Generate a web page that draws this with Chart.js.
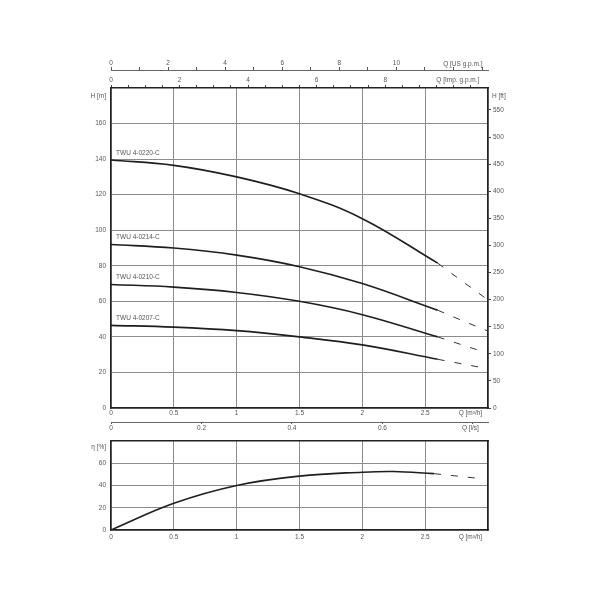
<!DOCTYPE html>
<html>
<head>
<meta charset="utf-8">
<script src="https://cdn.jsdelivr.net/npm/chart.js@4.4.0/dist/chart.umd.min.js"></script>
<style>
body { margin: 0; background: #fff; }
#wrap { position: relative; width: 600px; height: 600px; }
canvas { position: absolute; left: 0; }
#top { top: 50px; }
#bottom { top: 432px; }
</style>
</head>
<body>
<div id="wrap">
<canvas id="top" width="600" height="390"></canvas>
<canvas id="bottom" width="600" height="116"></canvas>
</div>
<script>
// pump names and head curves H [m] over Q [m3/h]
const pumpNames = ['TWU 4-0220-C', 'TWU 4-0214-C', 'TWU 4-0210-C', 'TWU 4-0207-C'];
const qSolid = [0, 0.5, 1, 1.5, 2, 2.6];
const h0220 = [139.5, 136.5, 130, 120.5, 106.5, 81.5];
const h0214 = [92, 90, 86, 79.5, 70, 55];
const h0210 = [69.5, 68, 65, 60, 52.5, 40];
const h0207 = [46.5, 45.5, 43.5, 40, 35.5, 27.4];

// dashed parts past the working range
const qDash0220 = [2.6, 2.8, 3.0];
const hDash0220 = [81.5, 71, 60.8];
const qDash0214 = [2.6, 2.8, 3.0];
const hDash0214 = [55, 49, 43.3];
const qDash0210 = [2.6, 2.92];
const hDash0210 = [40, 32.6];
const qDash0207 = [2.6, 2.93];
const hDash0207 = [27.4, 23];

// efficiency
const qEta = [0, 0.5, 1, 1.5, 2, 2.25, 2.57];
const eta = [0, 24, 40, 48.4, 51.9, 52.5, 50.6];
const qEtaDash = [2.57, 2.93];
const etaDash = [50.6, 46.3];

// tick values
const qTicks = [0, 0.5, 1, 1.5, 2, 2.5, 3];
const lsTicks = [0, 0.2, 0.4, 0.6, 0.8];
const usTicks = [0, 1, 2, 3, 4, 5, 6, 7, 8, 9, 10, 11, 12, 13];
const impTicks = [0, 0.5, 1, 1.5, 2, 2.5, 3, 3.5, 4, 4.5, 5, 5.5, 6, 6.5, 7, 7.5, 8, 8.5, 9, 9.5, 10, 10.5];
const hTicks = [0, 20, 40, 60, 80, 100, 120, 140, 160];
const ftTicks = [0, 50, 100, 150, 200, 250, 300, 350, 400, 450, 500, 550];
const etaTicks = [0, 20, 40, 60];

const FONT = { family: '"Liberation Sans", Arial, sans-serif', size: 6.5 };
const txtColor = '#555';
const gridColor = '#8c8c8c';
const axisColor = '#222';

function pts(xs, ys) { return xs.map((x, i) => ({ x: x, y: ys[i] })); }
function setTicks(arr) { return s => { s.ticks = arr.map(v => ({ value: v })); }; }
function fix(dim, px) { return s => { s[dim] = px; }; }

function solid(xs, ys) {
    return { data: pts(xs, ys), borderColor: '#1e1e1e', borderWidth: 1.6, pointRadius: 0, tension: 0.4 };
}
function dashed(xs, ys) {
    return { data: pts(xs, ys), borderColor: '#333', borderWidth: 1, borderDash: [7, 10], pointRadius: 0, tension: 0 };
}

function drawTexts(chart, items) {
    const ctx = chart.ctx;
    ctx.save();
    ctx.font = FONT.size + 'px ' + FONT.family;
    ctx.fillStyle = txtColor;
    ctx.textBaseline = 'middle';
    items.forEach(t => {
        ctx.textAlign = t.align || 'center';
        ctx.fillText(t.text, t.x, t.y);
    });
    ctx.restore();
}

const heads = [h0220, h0214, h0210, h0207];

const topTexts = {
    id: 'topTexts',
    afterDraw(chart) {
        const s = chart.scales;
        const items = [
            { text: 'H [m]', align: 'right', x: s.y.right - 5, y: s.y.getPixelForValue(175.5) },
            { text: 'H [ft]', align: 'left', x: s.yFt.left + 4, y: s.y.getPixelForValue(175.5) },
            { text: 'Q [US g.p.m.]', x: s.x.getPixelForValue(2.8), y: s.xUS.bottom - 6 },
            { text: 'Q [Imp. g.p.m.]', x: s.x.getPixelForValue(2.76), y: s.xImp.bottom - 8 },
            { text: 'Q [m\u00b3/h]', x: s.x.getPixelForValue(2.86), y: s.x.top + 5 },
            { text: 'Q [l/s]', x: s.x.getPixelForValue(2.86), y: s.ls.top + 6 }
        ];
        pumpNames.forEach((n, i) => {
            items.push({ text: n, align: 'left', x: s.x.getPixelForValue(0.04), y: s.y.getPixelForValue(heads[i][0]) - 7 });
        });
        drawTexts(chart, items);
    }
};

new Chart(document.getElementById('top'), {
    type: 'line',
    data: {
        datasets: [
            solid(qSolid, h0220), dashed(qDash0220, hDash0220),
            solid(qSolid, h0214), dashed(qDash0214, hDash0214),
            solid(qSolid, h0210), dashed(qDash0210, hDash0210),
            solid(qSolid, h0207), dashed(qDash0207, hDash0207)
        ]
    },
    options: {
        responsive: false,
        animation: false,
        layout: { padding: { top: 6, bottom: 4, left: 0, right: 0 } },
        plugins: { legend: { display: false }, tooltip: { enabled: false } },
        scales: {
            x: {
                type: 'linear', position: 'bottom', weight: 0, min: 0, max: 3,
                afterBuildTicks: setTicks(qTicks), afterFit: fix('height', 14),
                ticks: { font: FONT, color: txtColor, padding: 1, autoSkip: false, maxRotation: 0,
                    callback: v => v < 3 ? String(v) : '' },
                grid: { color: gridColor, lineWidth: 1, drawTicks: false },
                border: { color: axisColor, width: 1.5 }
            },
            ls: {
                type: 'linear', position: 'bottom', weight: 1, min: 0, max: 3 / 3.6,
                afterBuildTicks: setTicks(lsTicks), afterFit: fix('height', 14),
                ticks: { font: FONT, color: txtColor, padding: 0, autoSkip: false, maxRotation: 0,
                    callback: v => v < 0.7 ? String(v) : '' },
                grid: { drawOnChartArea: false, tickLength: 2, color: '#555' },
                border: { color: '#666', width: 1 }
            },
            xImp: {
                type: 'linear', position: 'top', weight: 0, min: 0, max: 3 * 3.6662,
                afterBuildTicks: setTicks(impTicks), afterFit: fix('height', 18),
                ticks: { font: FONT, color: txtColor, padding: 1, autoSkip: false, maxRotation: 0,
                    callback: v => (v % 2 === 0 && v <= 8) ? String(v) : '' },
                grid: { drawOnChartArea: false, tickLength: 3, color: '#444' },
                border: { color: axisColor, width: 1.5 }
            },
            xUS: {
                type: 'linear', position: 'top', weight: 1, min: 0, max: 3 * 4.4029,
                afterBuildTicks: setTicks(usTicks), afterFit: fix('height', 14),
                ticks: { font: FONT, color: txtColor, padding: 0, autoSkip: false, maxRotation: 0,
                    callback: v => (v % 2 === 0 && v <= 10) ? String(v) : '' },
                grid: { drawOnChartArea: false, tickLength: 3, color: '#555' },
                border: { color: '#666', width: 1 }
            },
            y: {
                type: 'linear', position: 'left', min: 0, max: 180,
                afterBuildTicks: setTicks(hTicks), afterFit: fix('width', 111),
                ticks: { font: FONT, color: txtColor, padding: 5, callback: v => String(v) },
                grid: { color: gridColor, lineWidth: 1, drawTicks: false },
                border: { color: axisColor, width: 1.5 }
            },
            yFt: {
                type: 'linear', position: 'right', min: 0, max: 180 * 3.28084,
                afterBuildTicks: setTicks(ftTicks), afterFit: fix('width', 112),
                ticks: { font: FONT, color: txtColor, padding: 2, callback: v => String(v) },
                grid: { drawOnChartArea: false, tickLength: 3, color: '#444' },
                border: { color: axisColor, width: 1.5 }
            }
        }
    },
    plugins: [topTexts]
});

const bottomTexts = {
    id: 'bottomTexts',
    afterDraw(chart) {
        const s = chart.scales;
        drawTexts(chart, [
            { text: '\u03b7 [%]', align: 'right', x: s.y.right - 5, y: s.y.getPixelForValue(74.5) },
            { text: 'Q [m\u00b3/h]', x: s.x.getPixelForValue(2.86), y: s.x.top + 7 }
        ]);
    }
};

new Chart(document.getElementById('bottom'), {
    type: 'line',
    data: {
        datasets: [solid(qEta, eta), dashed(qEtaDash, etaDash)]
    },
    options: {
        responsive: false,
        animation: false,
        layout: { padding: { top: 0, bottom: 4, left: 0, right: 0 } },
        plugins: { legend: { display: false }, tooltip: { enabled: false } },
        scales: {
            x: {
                type: 'linear', position: 'bottom', min: 0, max: 3,
                afterBuildTicks: setTicks(qTicks), afterFit: fix('height', 14),
                ticks: { font: FONT, color: txtColor, padding: 3, autoSkip: false, maxRotation: 0,
                    callback: v => v < 3 ? String(v) : '' },
                grid: { color: gridColor, lineWidth: 1, drawTicks: false },
                border: { color: axisColor, width: 1.5 }
            },
            xTop: {
                type: 'linear', position: 'top', min: 0, max: 3,
                afterFit: fix('height', 7),
                ticks: { display: false },
                grid: { drawOnChartArea: false, drawTicks: false },
                border: { color: axisColor, width: 1.5 }
            },
            y: {
                type: 'linear', position: 'left', min: 0, max: 80,
                afterBuildTicks: setTicks(etaTicks), afterFit: fix('width', 111),
                ticks: { font: FONT, color: txtColor, padding: 5, callback: v => String(v) },
                grid: { color: gridColor, lineWidth: 1, drawTicks: false },
                border: { color: axisColor, width: 1.5 }
            },
            yR: {
                type: 'linear', position: 'right', min: 0, max: 80,
                afterFit: fix('width', 112),
                ticks: { display: false },
                grid: { drawOnChartArea: false, drawTicks: false },
                border: { color: axisColor, width: 1.5 }
            }
        }
    },
    plugins: [bottomTexts]
});
</script>
</body>
</html>
